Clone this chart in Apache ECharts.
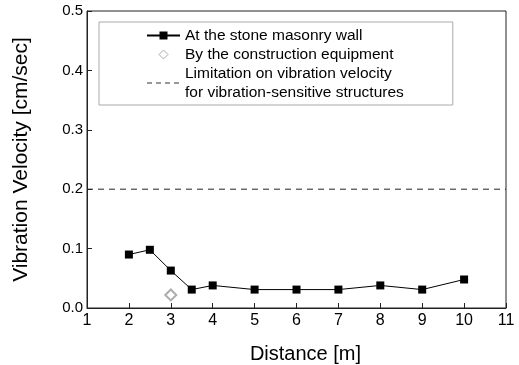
<!DOCTYPE html>
<html>
<head>
<meta charset="utf-8">
<script src="https://cdn.jsdelivr.net/npm/echarts@6/dist/echarts.min.js"></script>
<style>
  html, body { margin: 0; padding: 0; background: #fff; }
  #chart { width: 519px; height: 365px; }
</style>
</head>
<body>
<div id="chart"></div>
<script>
// data
var wallDist = [2, 2.5, 3, 3.5, 4, 5, 6, 7, 8, 9, 10];
var wallVel = [0.090, 0.098, 0.063, 0.031, 0.038, 0.031, 0.031, 0.031, 0.038, 0.031, 0.048];
var equipDist = [3];
var equipVel = [0.022];
var limitDist = [1, 11];
var limitVel = [0.2, 0.2];

var names = ['At the stone masonry wall', 'By the construction equipment',
    'Limitation on vibration velocity\nfor vibration-sensitive structures'];

function pairs(xs, ys) {
    var out = [];
    for (var i = 0; i < xs.length; i++) out.push([xs[i], ys[i]]);
    return out;
}

// legend icons, padded to the full 33x10 icon box so they keep their size
var diamondIcon = 'path://M0,0L0,0M33,10L33,10M16.5,0.5L21,5L16.5,9.5L12,5Z';
var dashIcon = 'path://M0,0L0,0M33,10L33,10M0,4.5h5v1h-5zM9,4.5h5v1h-5zM18,4.5h5v1h-5zM27,4.5h5v1h-5z';

var font = '"Liberation Sans", Arial, sans-serif';
var myChart = echarts.init(document.getElementById('chart'));
var option = {
    backgroundColor: '#fff',
    animation: false,
    textStyle: { fontFamily: font },
    grid: {
        left: 87, right: 13, top: 11, bottom: 57,
        outerBoundsMode: 'none',
        show: true, borderColor: '#222', borderWidth: 1
    },
    legend: {
        orient: 'vertical',
        left: 99, top: 22,
        padding: [4, 49, 3, 47],
        borderColor: '#aaa', borderWidth: 1,
        itemWidth: 33, itemHeight: 10, itemGap: 0,
        textStyle: { fontFamily: font, fontSize: 15.5, lineHeight: 19, color: '#000' },
        data: [
            { name: names[0] },
            { name: names[1], icon: diamondIcon,
              itemStyle: { color: '#fff', borderColor: '#999', borderWidth: 1 } },
            { name: names[2], icon: dashIcon,
              itemStyle: { color: '#333', borderWidth: 0 } }
        ]
    },
    xAxis: {
        type: 'value', min: 1, max: 11, interval: 1,
        name: 'Distance [m]', nameLocation: 'middle', nameGap: 36,
        nameTextStyle: { fontFamily: font, fontSize: 20, color: '#000', padding: [0, 0, 0, 18] },
        axisLine: { lineStyle: { color: '#222' } },
        axisTick: { inside: true, length: 5, lineStyle: { color: '#222' } },
        axisLabel: { margin: 5, fontFamily: font, fontSize: 16, color: '#000' },
        splitLine: { show: false }
    },
    yAxis: {
        type: 'value', min: 0, max: 0.5, interval: 0.1,
        name: 'Vibration Velocity [cm/sec]', nameLocation: 'middle', nameGap: 55,
        nameTextStyle: { fontFamily: font, fontSize: 21, color: '#000' },
        axisLine: { show: true, lineStyle: { color: '#222' } },
        axisTick: { inside: true, length: 5, lineStyle: { color: '#222' } },
        axisLabel: {
            margin: 4, fontFamily: font, fontSize: 15, color: '#000',
            formatter: function (v) { return v.toFixed(1); }
        },
        splitLine: { show: false }
    },
    series: [
        {
            name: names[0], type: 'line',
            data: pairs(wallDist, wallVel),
            symbol: 'rect', symbolSize: 8,
            itemStyle: { color: '#000' },
            lineStyle: { color: '#000', width: 1 }
        },
        {
            name: names[1], type: 'scatter',
            data: pairs(equipDist, equipVel),
            symbol: 'emptyDiamond', symbolSize: 11,
            itemStyle: { color: '#999', borderColor: '#999', borderWidth: 1 }
        },
        {
            name: names[2], type: 'line',
            data: pairs(limitDist, limitVel),
            symbol: 'none',
            itemStyle: { color: '#222' },
            lineStyle: { color: '#222', width: 1, type: [6, 5] }
        }
    ]
};
myChart.setOption(option);
</script>
</body>
</html>
